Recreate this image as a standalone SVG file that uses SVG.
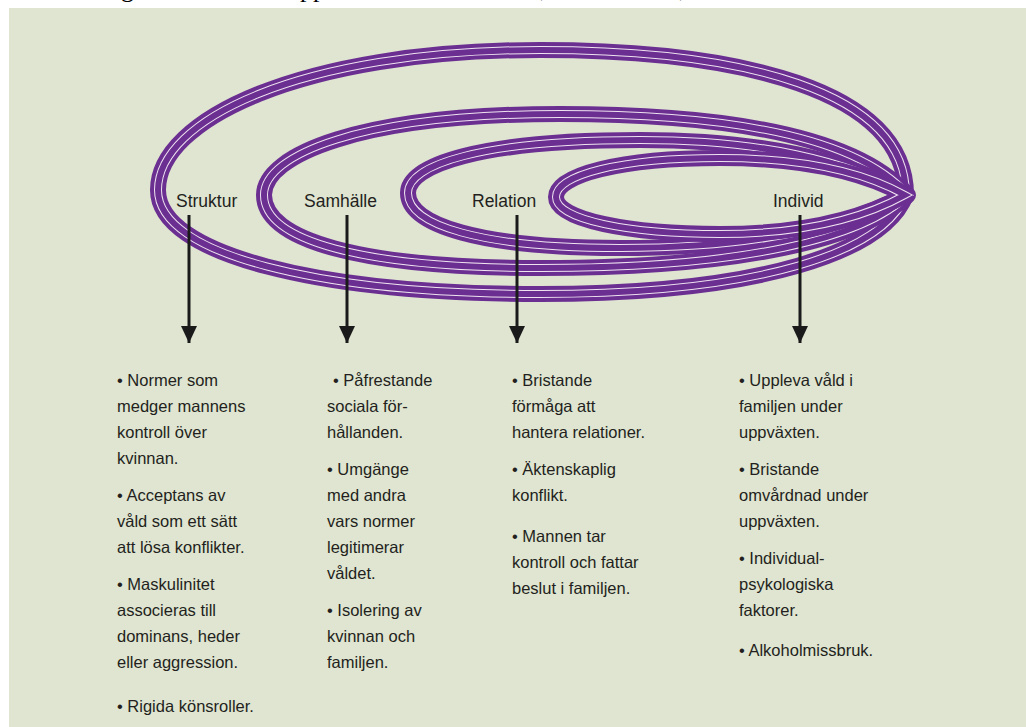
<svg xmlns="http://www.w3.org/2000/svg" width="1026" height="727" viewBox="0 0 1026 727">
<style>
.bg{fill:#DFE5D0}
.rb{fill:none;stroke:#6B2F92;stroke-width:16;stroke-linejoin:round}
.rw{fill:none;stroke:#EFE3F0;stroke-width:8}
.rc{fill:none;stroke:#6B2F92;stroke-width:6}
.lbl{font-family:"Liberation Sans",Arial,sans-serif;font-size:17.5px;fill:#231F20}
.txt{font-family:"Liberation Sans",Arial,sans-serif;font-size:16.5px;fill:#231F20}
.conn{stroke:#1A1A1A;stroke-width:3;fill:none}
.top{font-family:"Liberation Serif","Times New Roman",serif;font-size:26px;fill:#000}
</style>
<defs>
<marker id="ah" markerUnits="userSpaceOnUse" markerWidth="18" markerHeight="18" refX="17" refY="8" orient="auto">
<path d="M0,0 L17,8 L0,16 Z" fill="#1A1A1A"/>
</marker>
<path id="p1" d="M906,195 C906,90 740,50 540,50 C300,50 158,120 158,190 C158,255 320,294 540,294 C760,294 884,252 906,195 Z"/>
<path id="p2" d="M908,195 C860,140 740,114 560,114 C360,114 264,155 264,195 C264,240 360,268 540,268 C745,268 865,238 908,195 Z"/>
<path id="p3" d="M906,195 C850,160 760,140 640,140 C480,140 408,165 408,193 C408,225 480,248 620,248 C760,248 850,225 906,195 Z"/>
<path id="p4" d="M905,195 C860,170 800,158 720,158 C620,158 556,175 556,197 C556,220 630,234 720,234 C800,234 860,220 905,195 Z"/>
</defs>
<rect x="0" y="0" width="1026" height="727" fill="#fff"/>
<text class="top" y="-3"><tspan x="121">g</tspan><tspan x="300">pp</tspan><tspan x="540">,</tspan><tspan x="679">,</tspan></text>
<rect class="bg" x="9" y="8" width="1017" height="719"/>

<g id="ring-struktur"><use href="#p1" class="rb"/><use href="#p1" class="rw"/><use href="#p1" class="rc"/></g>
<g id="ring-samhalle"><use href="#p2" class="rb"/><use href="#p2" class="rw"/><use href="#p2" class="rc"/></g>
<g id="ring-relation"><use href="#p3" class="rb"/><use href="#p3" class="rw"/><use href="#p3" class="rc"/></g>
<g id="ring-individ"><use href="#p4" class="rb"/><use href="#p4" class="rw"/><use href="#p4" class="rc"/></g>

<g id="label-struktur"><text class="lbl" x="176" y="207">Struktur</text></g>
<g id="label-samhalle"><text class="lbl" x="304" y="207">Samhälle</text></g>
<g id="label-relation"><text class="lbl" x="472" y="207">Relation</text></g>
<g id="label-individ"><text class="lbl" x="773" y="207">Individ</text></g>

<g id="connectors">
<line class="conn" x1="189" y1="215" x2="189" y2="343" marker-end="url(#ah)"/>
<line class="conn" x1="347" y1="215" x2="347" y2="343" marker-end="url(#ah)"/>
<line class="conn" x1="517" y1="215" x2="517" y2="343" marker-end="url(#ah)"/>
<line class="conn" x1="800" y1="215" x2="800" y2="343" marker-end="url(#ah)"/>
</g>

<g id="text-struktur">
<text class="txt" x="117" y="386">• Normer som</text>
<text class="txt" x="117" y="412">medger mannens</text>
<text class="txt" x="117" y="438">kontroll över</text>
<text class="txt" x="117" y="464">kvinnan.</text>
<text class="txt" x="117" y="501">• Acceptans av</text>
<text class="txt" x="117" y="527">våld som ett sätt</text>
<text class="txt" x="117" y="553">att lösa konflikter.</text>
<text class="txt" x="117" y="590">• Maskulinitet</text>
<text class="txt" x="117" y="616">associeras till</text>
<text class="txt" x="117" y="642">dominans, heder</text>
<text class="txt" x="117" y="668">eller aggression.</text>
<text class="txt" x="117" y="712">• Rigida könsroller.</text>
</g>

<g id="text-samhalle">
<text class="txt" x="333" y="386">• Påfrestande</text>
<text class="txt" x="327" y="412">sociala för-</text>
<text class="txt" x="327" y="438">hållanden.</text>
<text class="txt" x="327" y="475">• Umgänge</text>
<text class="txt" x="327" y="501">med andra</text>
<text class="txt" x="327" y="527">vars normer</text>
<text class="txt" x="327" y="553">legitimerar</text>
<text class="txt" x="327" y="579">våldet.</text>
<text class="txt" x="327" y="616">• Isolering av</text>
<text class="txt" x="327" y="642">kvinnan och</text>
<text class="txt" x="327" y="668">familjen.</text>
</g>

<g id="text-relation">
<text class="txt" x="512" y="386">• Bristande</text>
<text class="txt" x="512" y="412">förmåga att</text>
<text class="txt" x="512" y="438">hantera relationer.</text>
<text class="txt" x="512" y="475">• Äktenskaplig</text>
<text class="txt" x="512" y="501">konflikt.</text>
<text class="txt" x="512" y="542">• Mannen tar</text>
<text class="txt" x="512" y="568">kontroll och fattar</text>
<text class="txt" x="512" y="594">beslut i familjen.</text>
</g>

<g id="text-individ">
<text class="txt" x="739" y="386">• Uppleva våld i</text>
<text class="txt" x="739" y="412">familjen under</text>
<text class="txt" x="739" y="438">uppväxten.</text>
<text class="txt" x="739" y="475">• Bristande</text>
<text class="txt" x="739" y="501">omvårdnad under</text>
<text class="txt" x="739" y="527">uppväxten.</text>
<text class="txt" x="739" y="564">• Individual-</text>
<text class="txt" x="739" y="590">psykologiska</text>
<text class="txt" x="739" y="616">faktorer.</text>
<text class="txt" x="739" y="656">• Alkoholmissbruk.</text>
</g>
</svg>
